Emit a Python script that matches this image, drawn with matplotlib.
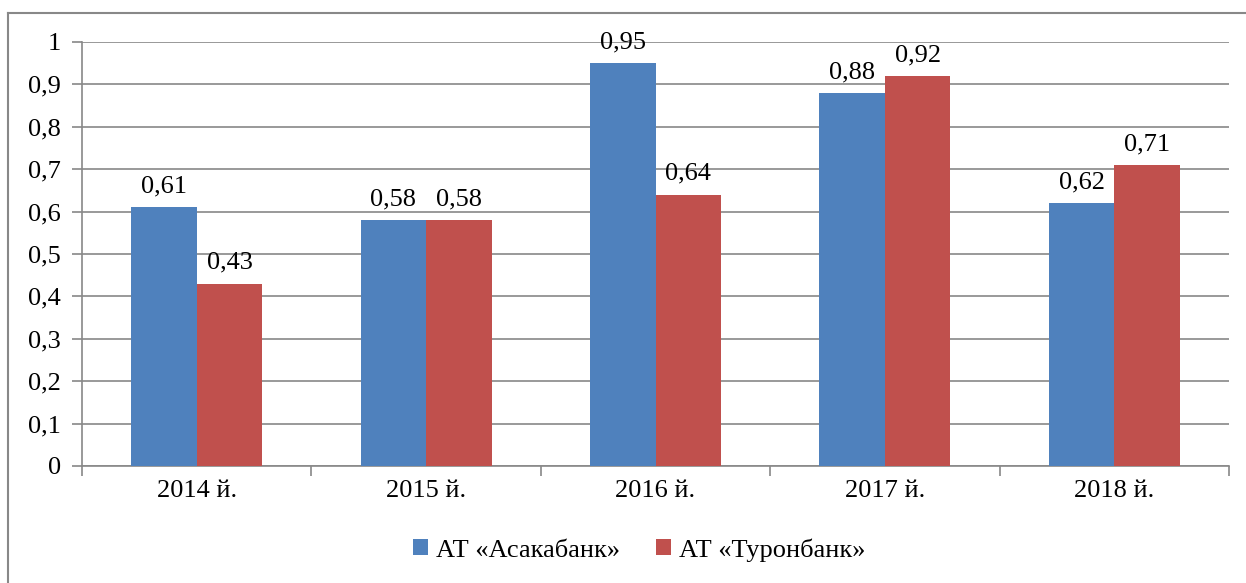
import matplotlib.pyplot as plt
import matplotlib
import numpy as np

matplotlib.rcParams['font.family'] = ['Liberation Serif', 'DejaVu Serif']
matplotlib.rcParams['font.size'] = 19

# данные
years = ['2014 й.', '2015 й.', '2016 й.', '2017 й.', '2018 й.']
asaka = [0.61, 0.58, 0.95, 0.88, 0.62]
turon = [0.43, 0.58, 0.64, 0.92, 0.71]
labels = ['АТ «Асакабанк»', 'АТ «Туронбанк»']

blue = '#4F81BD'
red = '#C0504D'
grid = '#888888'

fig = plt.figure(figsize=(12.46, 5.83), dpi=100)
ax = fig.add_axes([0.0658, 0.2007, 0.9206, 0.7273])

x = np.arange(len(years))
w = 1 / 3.5
ax.bar(x - w / 2, asaka, width=w, color=blue, label=labels[0], zorder=3)
ax.bar(x + w / 2, turon, width=w, color=red, label=labels[1], zorder=3)

for i, a, t in zip(x, asaka, turon):
    ax.annotate(('%.2f' % a).replace('.', ','), (i - w / 2, a), xytext=(0, 7),
                textcoords='offset points', ha='center', va='bottom')
    ax.annotate(('%.2f' % t).replace('.', ','), (i + w / 2, t), xytext=(0, 7),
                textcoords='offset points', ha='center', va='bottom')

ax.set_xlim(-0.5, len(years) - 0.5)
ax.set_ylim(0, 1)
yt = np.arange(0, 1.01, 0.1)
ax.set_yticks(yt)
ax.set_yticklabels(['0'] + [('%.1f' % v).replace('.', ',') for v in yt[1:-1]] + ['1'])
ax.yaxis.grid(True, color=grid, linewidth=1.2, zorder=0)

ax.set_xticks(x)
ax.set_xticklabels(years)
ax.set_xticks(np.arange(-0.5, len(years), 1), minor=True)
ax.tick_params(axis='x', which='major', length=0, pad=10)
ax.tick_params(axis='x', which='minor', length=7, color=grid, width=1.2)
ax.tick_params(axis='y', length=7, color=grid, width=1.2, pad=8)

for s in ['top', 'right']:
    ax.spines[s].set_visible(False)
ax.spines['left'].set_color(grid)
ax.spines['bottom'].set_color(grid)
ax.spines['left'].set_linewidth(1.2)
ax.spines['bottom'].set_linewidth(1.2)

# рамка вокруг диаграммы
fig.add_artist(plt.Line2D([8 / 1246, 1], [1 - 13 / 583] * 2, color=grid, linewidth=1.5))
fig.add_artist(plt.Line2D([8 / 1246] * 2, [0, 1 - 13 / 583], color=grid, linewidth=1.5))

fig.legend(loc='center', bbox_to_anchor=(0.513, 1 - 550 / 583), ncol=2, frameon=False,
           handlelength=0.55, handleheight=0.55, handletextpad=0.3, columnspacing=1.4)

fig.savefig('out.png', dpi=100)
